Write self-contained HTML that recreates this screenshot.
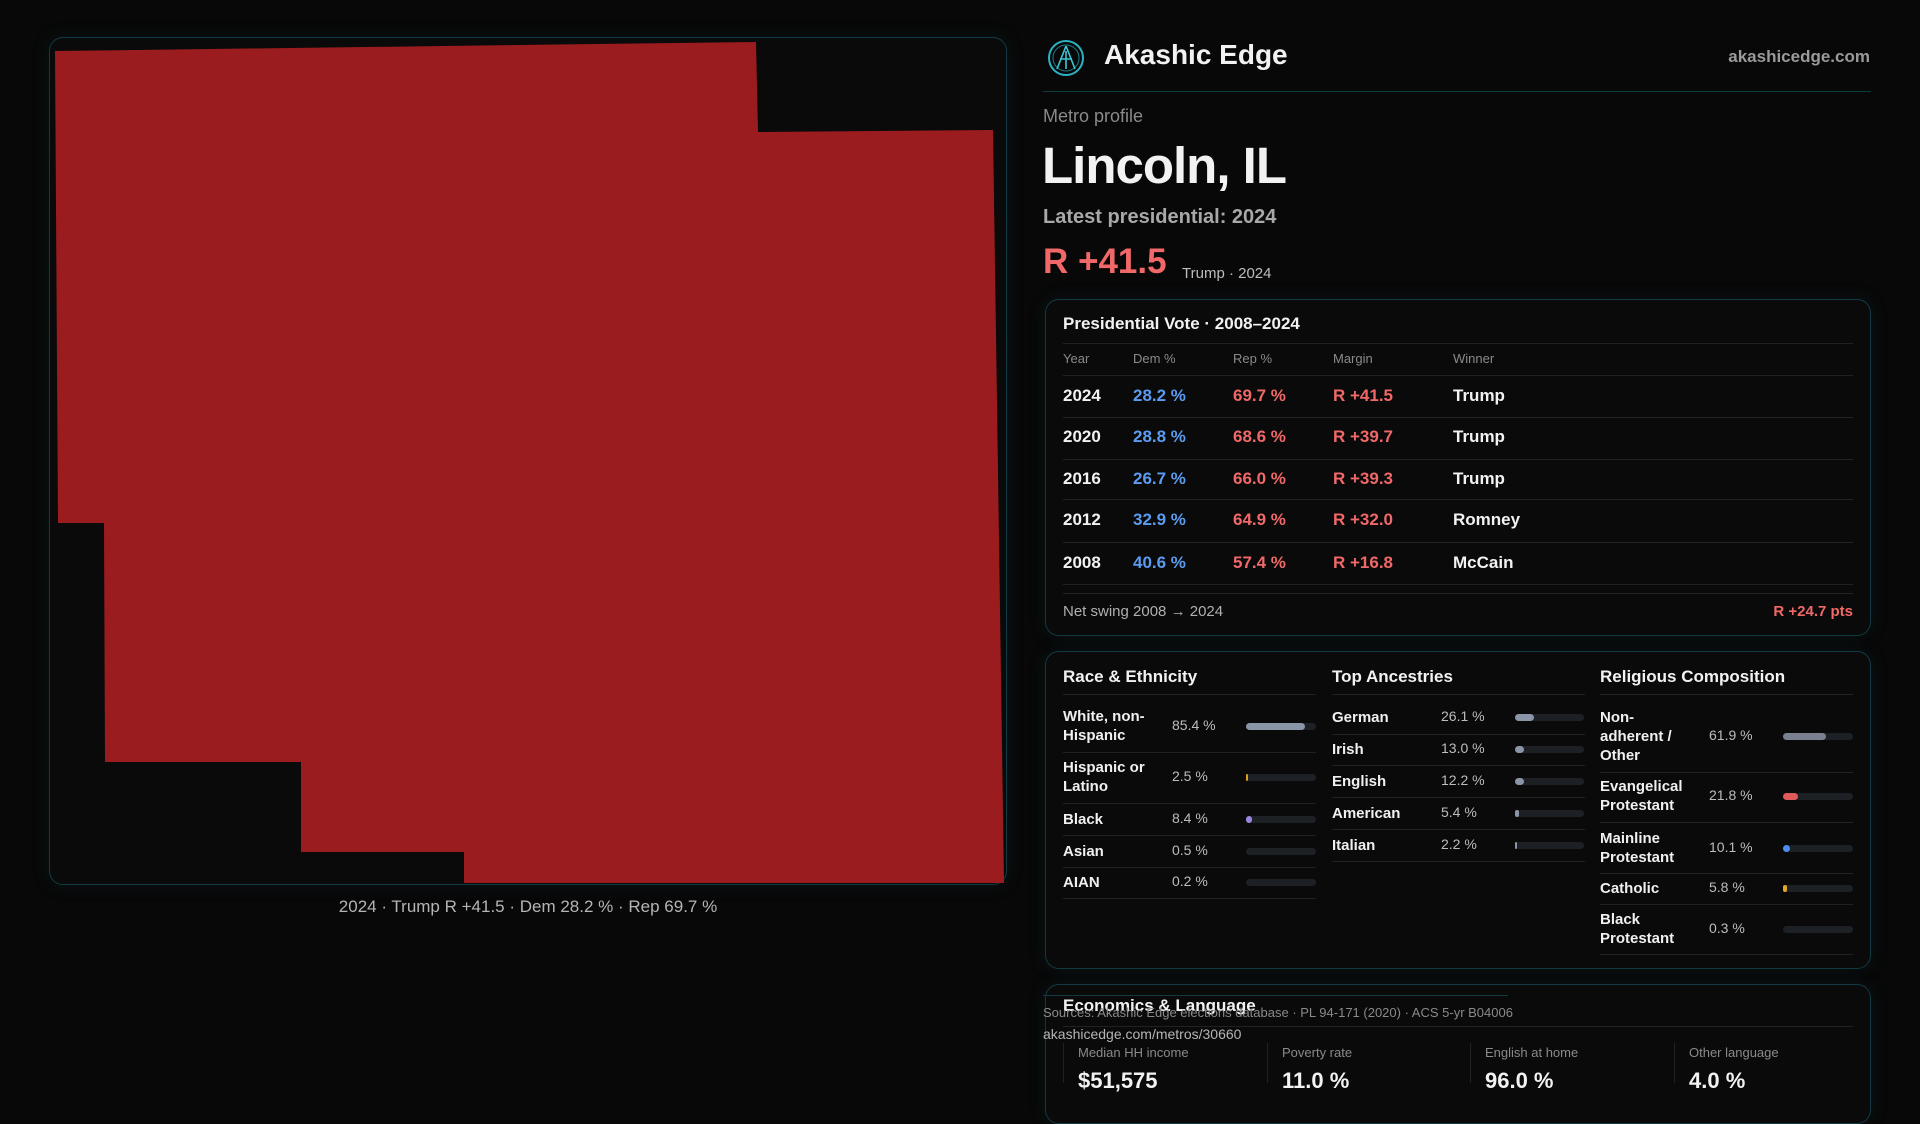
<!DOCTYPE html>
<html><head><meta charset="utf-8"><style>
*{margin:0;padding:0;box-sizing:border-box}
body{width:1920px;height:1080px;background:#080808;font-family:"Liberation Sans",sans-serif;color:#f2f2f2;position:relative;overflow:hidden}
.a{position:absolute;white-space:nowrap}
.panel{position:absolute;border:1px solid #123a42;border-radius:14px;background:#0a0a0a;box-shadow:0 0 18px rgba(20,80,90,0.18)}
.hl{position:absolute;height:1px;background:#1e2224}
.b{font-weight:bold}
.blue{color:#5b9cf2}.red{color:#f06868}
.bar{position:absolute;height:7px;border-radius:4px;background:#1d2125}
.bar i{position:absolute;left:0;top:0;height:7px;border-radius:4px;display:block}
.lab{font-size:15px;font-weight:bold;line-height:19px;color:#f0f0f0}
.pct{font-size:14px;color:#bdbdbd}
</style></head><body>
<div class="panel" style="left:49px;top:37px;width:958px;height:848px;background:#0a0a0a"></div>
<svg class="a" style="left:0;top:0" width="1010" height="890"><polygon points="55,51 756,42 758,132 993,130 1004,883 464,883 464,852 301,852 301,762 105,762 104,523 58,523" fill="#9b1c1f"/></svg>
<div class="a" style="left:0;width:1056px;text-align:center;top:897px;font-size:17px;color:#b5b5b5">2024 · Trump R +41.5 · Dem 28.2 % · Rep 69.7 %</div>

<svg class="a" style="left:1047px;top:39px" width="38" height="38"><circle cx="19" cy="19" r="17" fill="none" stroke="#2bb3c4" stroke-width="2"/><circle cx="19" cy="19" r="13" fill="none" stroke="#1d7f8c" stroke-width="1"/><path d="M19 7 L10 30 M19 7 L28 30 M13 20 L25 20 M19 12 L19 30" stroke="#3cc6d6" stroke-width="1.6" fill="none"/></svg>
<div class="a b" style="left:1104px;top:39px;font-size:28px">Akashic Edge</div>
<div class="a b" style="right:50px;top:47px;font-size:17px;color:#9a9a9a">akashicedge.com</div>
<div class="a" style="left:1043px;top:91px;width:828px;height:1px;background:#0f3b44"></div>
<div class="a" style="left:1043px;top:106px;font-size:18px;color:#8a8a8a">Metro profile</div>
<div class="a b" style="left:1042px;top:136px;font-size:51px;letter-spacing:-1px">Lincoln, IL</div>
<div class="a b" style="left:1043px;top:206px;font-size:20px;color:#a8a8a8">Latest presidential: 2024</div>
<div class="a b red" style="left:1043px;top:242px;font-size:35px">R +41.5</div>
<div class="a" style="left:1182px;top:265px;font-size:15px;color:#bdbdbd">Trump · 2024</div>

<div class="panel" style="left:1045px;top:299px;width:826px;height:337px"></div>
<div class="a b" style="left:1063px;top:314px;font-size:17px">Presidential Vote · 2008–2024</div>
<div class="hl" style="left:1063px;width:790px;top:343px"></div>
<div class="a" style="left:1063px;top:351px;font-size:13px;color:#8a8a8a">Year</div>
<div class="a" style="left:1133px;top:351px;font-size:13px;color:#8a8a8a">Dem %</div>
<div class="a" style="left:1233px;top:351px;font-size:13px;color:#8a8a8a">Rep %</div>
<div class="a" style="left:1333px;top:351px;font-size:13px;color:#8a8a8a">Margin</div>
<div class="a" style="left:1453px;top:351px;font-size:13px;color:#8a8a8a">Winner</div>
<div class="hl" style="left:1063px;width:790px;top:375px"></div>
<div class="hl" style="left:1063px;width:790px;top:417px"></div>
<div class="hl" style="left:1063px;width:790px;top:459px"></div>
<div class="hl" style="left:1063px;width:790px;top:499px"></div>
<div class="hl" style="left:1063px;width:790px;top:542px"></div>
<div class="hl" style="left:1063px;width:790px;top:584px"></div>
<div class="hl" style="left:1063px;width:790px;top:593px"></div>

<div class="a b" style="left:1063px;top:386px;font-size:17px">2024</div><div class="a b blue" style="left:1133px;top:386px;font-size:17px">28.2 %</div><div class="a b red" style="left:1233px;top:386px;font-size:17px">69.7 %</div><div class="a b red" style="left:1333px;top:386px;font-size:17px">R +41.5</div><div class="a b" style="left:1453px;top:386px;font-size:17px">Trump</div>
<div class="a b" style="left:1063px;top:427px;font-size:17px">2020</div><div class="a b blue" style="left:1133px;top:427px;font-size:17px">28.8 %</div><div class="a b red" style="left:1233px;top:427px;font-size:17px">68.6 %</div><div class="a b red" style="left:1333px;top:427px;font-size:17px">R +39.7</div><div class="a b" style="left:1453px;top:427px;font-size:17px">Trump</div>
<div class="a b" style="left:1063px;top:469px;font-size:17px">2016</div><div class="a b blue" style="left:1133px;top:469px;font-size:17px">26.7 %</div><div class="a b red" style="left:1233px;top:469px;font-size:17px">66.0 %</div><div class="a b red" style="left:1333px;top:469px;font-size:17px">R +39.3</div><div class="a b" style="left:1453px;top:469px;font-size:17px">Trump</div>
<div class="a b" style="left:1063px;top:510px;font-size:17px">2012</div><div class="a b blue" style="left:1133px;top:510px;font-size:17px">32.9 %</div><div class="a b red" style="left:1233px;top:510px;font-size:17px">64.9 %</div><div class="a b red" style="left:1333px;top:510px;font-size:17px">R +32.0</div><div class="a b" style="left:1453px;top:510px;font-size:17px">Romney</div>
<div class="a b" style="left:1063px;top:553px;font-size:17px">2008</div><div class="a b blue" style="left:1133px;top:553px;font-size:17px">40.6 %</div><div class="a b red" style="left:1233px;top:553px;font-size:17px">57.4 %</div><div class="a b red" style="left:1333px;top:553px;font-size:17px">R +16.8</div><div class="a b" style="left:1453px;top:553px;font-size:17px">McCain</div>
<div class="a" style="left:1063px;top:603px;font-size:15px;color:#b0b0b0">Net swing 2008 → 2024</div>
<div class="a b red" style="right:67px;top:603px;font-size:15px">R +24.7 pts</div>

<div class="panel" style="left:1045px;top:651px;width:826px;height:318px"></div>
<div class="a b" style="left:1063px;top:667px;font-size:17px">Race &amp; Ethnicity</div>
<div class="a b" style="left:1332px;top:667px;font-size:17px">Top Ancestries</div>
<div class="a b" style="left:1600px;top:667px;font-size:17px">Religious Composition</div>
<div class="hl" style="left:1063px;width:253px;top:694px"></div>
<div class="hl" style="left:1332px;width:253px;top:694px"></div>
<div class="hl" style="left:1600px;width:253px;top:694px"></div>

<div class="a lab" style="left:1063px;top:707px">White, non-<br>Hispanic</div><div class="a pct" style="left:1172px;top:717px">85.4 %</div><div class="bar" style="left:1246px;top:723px;width:70px"><i style="width:59px;background:#8a95a8"></i></div>
<div class="hl" style="left:1063px;width:253px;top:752px"></div>
<div class="a lab" style="left:1063px;top:758px">Hispanic or<br>Latino</div><div class="a pct" style="left:1172px;top:768px">2.5 %</div><div class="bar" style="left:1246px;top:774px;width:70px"><i style="width:2px;background:#d9a020"></i></div>
<div class="hl" style="left:1063px;width:253px;top:803px"></div>
<div class="a lab" style="left:1063px;top:810px">Black</div><div class="a pct" style="left:1172px;top:810px">8.4 %</div><div class="bar" style="left:1246px;top:816px;width:70px"><i style="width:6px;background:#9a85e0"></i></div>
<div class="hl" style="left:1063px;width:253px;top:835px"></div>
<div class="a lab" style="left:1063px;top:842px">Asian</div><div class="a pct" style="left:1172px;top:842px">0.5 %</div><div class="bar" style="left:1246px;top:848px;width:70px"></div>
<div class="hl" style="left:1063px;width:253px;top:867px"></div>
<div class="a lab" style="left:1063px;top:873px">AIAN</div><div class="a pct" style="left:1172px;top:873px">0.2 %</div><div class="bar" style="left:1246px;top:879px;width:70px"></div>
<div class="hl" style="left:1063px;width:253px;top:898px"></div>

<div class="a lab" style="left:1332px;top:708px">German</div><div class="a pct" style="left:1441px;top:708px">26.1 %</div><div class="bar" style="left:1515px;top:714px;width:69px"><i style="width:19px;background:#8a95a8"></i></div>
<div class="hl" style="left:1332px;width:253px;top:734px"></div>
<div class="a lab" style="left:1332px;top:740px">Irish</div><div class="a pct" style="left:1441px;top:740px">13.0 %</div><div class="bar" style="left:1515px;top:746px;width:69px"><i style="width:9px;background:#8a95a8"></i></div>
<div class="hl" style="left:1332px;width:253px;top:765px"></div>
<div class="a lab" style="left:1332px;top:772px">English</div><div class="a pct" style="left:1441px;top:772px">12.2 %</div><div class="bar" style="left:1515px;top:778px;width:69px"><i style="width:9px;background:#8a95a8"></i></div>
<div class="hl" style="left:1332px;width:253px;top:797px"></div>
<div class="a lab" style="left:1332px;top:804px">American</div><div class="a pct" style="left:1441px;top:804px">5.4 %</div><div class="bar" style="left:1515px;top:810px;width:69px"><i style="width:4px;background:#8a95a8"></i></div>
<div class="hl" style="left:1332px;width:253px;top:829px"></div>
<div class="a lab" style="left:1332px;top:836px">Italian</div><div class="a pct" style="left:1441px;top:836px">2.2 %</div><div class="bar" style="left:1515px;top:842px;width:69px"><i style="width:2px;background:#8a95a8"></i></div>
<div class="hl" style="left:1332px;width:253px;top:861px"></div>

<div class="a lab" style="left:1600px;top:708px">Non-<br>adherent /<br>Other</div><div class="a pct" style="left:1709px;top:727px">61.9 %</div><div class="bar" style="left:1783px;top:733px;width:70px"><i style="width:43px;background:#7a8090"></i></div>
<div class="hl" style="left:1600px;width:253px;top:772px"></div>
<div class="a lab" style="left:1600px;top:777px">Evangelical<br>Protestant</div><div class="a pct" style="left:1709px;top:787px">21.8 %</div><div class="bar" style="left:1783px;top:793px;width:70px"><i style="width:15px;background:#e05a5a"></i></div>
<div class="hl" style="left:1600px;width:253px;top:822px"></div>
<div class="a lab" style="left:1600px;top:829px">Mainline<br>Protestant</div><div class="a pct" style="left:1709px;top:839px">10.1 %</div><div class="bar" style="left:1783px;top:845px;width:70px"><i style="width:7px;background:#4a8ef0"></i></div>
<div class="hl" style="left:1600px;width:253px;top:873px"></div>
<div class="a lab" style="left:1600px;top:879px">Catholic</div><div class="a pct" style="left:1709px;top:879px">5.8 %</div><div class="bar" style="left:1783px;top:885px;width:70px"><i style="width:4px;background:#e0a820"></i></div>
<div class="hl" style="left:1600px;width:253px;top:904px"></div>
<div class="a lab" style="left:1600px;top:910px">Black<br>Protestant</div><div class="a pct" style="left:1709px;top:920px">0.3 %</div><div class="bar" style="left:1783px;top:926px;width:70px"></div>
<div class="hl" style="left:1600px;width:253px;top:954px"></div>

<div class="panel" style="left:1045px;top:984px;width:826px;height:140px"></div>
<div class="a b" style="left:1063px;top:996px;font-size:17px">Economics &amp; Language</div>
<div class="hl" style="left:1063px;width:790px;top:1026px"></div>
<div class="a" style="left:1043px;top:995px;width:465px;height:1px;background:#123a42"></div>
<div class="a" style="left:1043px;top:1005px;font-size:13px;color:#8a8a8a">Sources: Akashic Edge elections database · PL 94-171 (2020) · ACS 5-yr B04006</div>
<div class="a" style="left:1043px;top:1026px;font-size:14px;color:#b5b5b5">akashicedge.com/metros/30660</div>
<div class="a" style="left:1063px;top:1043px;width:1px;height:40px;background:#1e2224"></div>
<div class="a" style="left:1267px;top:1043px;width:1px;height:40px;background:#1e2224"></div>
<div class="a" style="left:1470px;top:1043px;width:1px;height:40px;background:#1e2224"></div>
<div class="a" style="left:1674px;top:1043px;width:1px;height:40px;background:#1e2224"></div>
<div class="a" style="left:1078px;top:1045px;font-size:13px;color:#8a8a8a">Median HH income</div>
<div class="a" style="left:1282px;top:1045px;font-size:13px;color:#8a8a8a">Poverty rate</div>
<div class="a" style="left:1485px;top:1045px;font-size:13px;color:#8a8a8a">English at home</div>
<div class="a" style="left:1689px;top:1045px;font-size:13px;color:#8a8a8a">Other language</div>
<div class="a b" style="left:1078px;top:1068px;font-size:22px">$51,575</div>
<div class="a b" style="left:1282px;top:1068px;font-size:22px">11.0 %</div>
<div class="a b" style="left:1485px;top:1068px;font-size:22px">96.0 %</div>
<div class="a b" style="left:1689px;top:1068px;font-size:22px">4.0 %</div>
</body></html>
